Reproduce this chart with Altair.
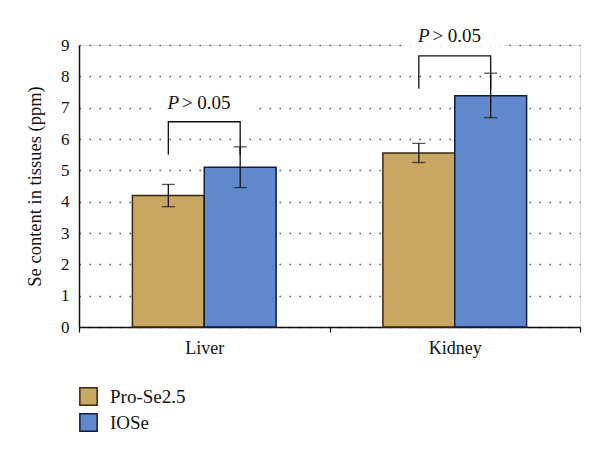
import altair as alt
import pandas as pd

tissues = ["Liver", "Liver", "Kidney", "Kidney"]
groups = ["Pro-Se2.5", "IOSe", "Pro-Se2.5", "IOSe"]
means = [4.20, 5.10, 5.55, 7.38]
err_low = [3.84, 4.45, 5.25, 6.68]
err_high = [4.55, 5.75, 5.86, 8.10]

bracket_tissues = ["Liver", "Kidney"]
bracket_base = [5.5, 7.6]
bracket_top = [6.55, 8.65]
label_y = [7.15, 9.3]

tissue_order = ["Liver", "Kidney"]
group_order = ["Pro-Se2.5", "IOSe"]
y_ticks = [0, 1, 2, 3, 4, 5, 6, 7, 8, 9]
fills = ["#c9a662", "#6088cc"]
strokes = ["#3b2a0e", "#0f1d3f"]

df = pd.DataFrame({"tissue": tissues, "group": groups, "mean": means,
                   "lo": err_low, "hi": err_high})

rows = []
for t, b, tp in zip(bracket_tissues, bracket_base, bracket_top):
    rows += [
        {"tissue": t, "group": group_order[0], "y": b, "order": 0},
        {"tissue": t, "group": group_order[0], "y": tp, "order": 1},
        {"tissue": t, "group": group_order[1], "y": tp, "order": 2},
        {"tissue": t, "group": group_order[1], "y": b, "order": 3},
    ]
br = pd.DataFrame(rows)
lab = pd.DataFrame({"tissue": bracket_tissues, "y": label_y,
                    "y1": [v - 0.33 for v in label_y],
                    "y2": [v + 0.33 for v in label_y]})

serif = "'Liberation Serif', 'Times New Roman', 'DejaVu Serif', serif"

x_axis = alt.Axis(labelAngle=0, labelFont=serif, labelFontSize=18,
                  labelColor="#111", labelPadding=7, domainColor="#111",
                  domainWidth=1.5, tickColor="#111", tickBand="extent",
                  tickSize=5, tickWidth=1.2)
y_axis = alt.Axis(values=y_ticks, labelFont=serif, labelFontSize=17,
                  labelColor="#111", titleFont=serif, titleFontSize=18.5,
                  titleFontWeight="normal", titleColor="#111", titlePadding=16,
                  domainColor="#111", domainWidth=1.5, ticks=False,
                  labelPadding=10, grid=True, gridColor="#555",
                  gridDash=[1.5, 8.5], gridWidth=1.3)
y_title = "Se content in tissues (ppm)"
x_scale = alt.Scale(paddingInner=0, paddingOuter=0)
y_scale = alt.Scale(domain=[0, 9], nice=False)


def X():
    return alt.X("tissue:N", sort=tissue_order, title=None, scale=x_scale, axis=x_axis)


def XO():
    return alt.XOffset("group:N", sort=group_order,
                       scale=alt.Scale(paddingInner=0, paddingOuter=0.743))


def Y(field):
    return alt.Y(field, scale=y_scale, title=y_title, axis=y_axis)


bars = alt.Chart(df).mark_bar(strokeWidth=1.5).encode(
    x=X(), xOffset=XO(), y=Y("mean:Q"),
    fill=alt.Fill("group:N", sort=group_order,
                  scale=alt.Scale(domain=group_order, range=fills),
                  legend=alt.Legend(title=None, orient="none", legendX=0, legendY=342,
                                    symbolType="square", symbolSize=300,
                                    symbolStrokeWidth=1.5, labelFont=serif,
                                    labelFontSize=19, labelColor="#111",
                                    rowPadding=1, labelOffset=12)),
    stroke=alt.Stroke("group:N", sort=group_order,
                      scale=alt.Scale(domain=group_order, range=strokes), legend=None),
)

err = alt.Chart(df).mark_rule(color="#111", strokeWidth=1.3).encode(
    x=X(), xOffset=XO(), y=Y("lo:Q"), y2="hi:Q")
cap_lo = alt.Chart(df).mark_tick(color="#111", size=13, thickness=1.3, orient="horizontal").encode(
    x=X(), xOffset=XO(), y=Y("lo:Q"))
cap_hi = alt.Chart(df).mark_tick(color="#111", size=13, thickness=1.3, orient="horizontal").encode(
    x=X(), xOffset=XO(), y=Y("hi:Q"))

bracket = alt.Chart(br).mark_line(color="#111", strokeWidth=1.3).encode(
    x=X(), xOffset=XO(), y=Y("y:Q"), detail="tissue:N", order="order:Q")

mask = alt.Chart(lab).mark_bar(color="white", width=100).encode(
    x=X(), y=Y("y1:Q"), y2="y2:Q")
txt_p = alt.Chart(lab).mark_text(font=serif, fontSize=19, fontStyle="italic",
                                 color="#111", dx=-31).encode(
    x=X(), y=Y("y:Q"), text=alt.value("P"))
txt_v = alt.Chart(lab).mark_text(font=serif, fontSize=19, color="#111", dx=2).encode(
    x=X(), y=Y("y:Q"), text=alt.value("> 0.05"))

chart = alt.layer(mask, bars, err, cap_lo, cap_hi, bracket, txt_p, txt_v).properties(
    width=501, height=282,
    autosize=alt.AutoSizeParams(type="none"),
    padding={"left": 71, "top": 37, "right": 12, "bottom": 118},
).configure_view(stroke=None).configure(background="white")

chart.save("out.html", embed_options={"renderer": "svg", "actions": False})
